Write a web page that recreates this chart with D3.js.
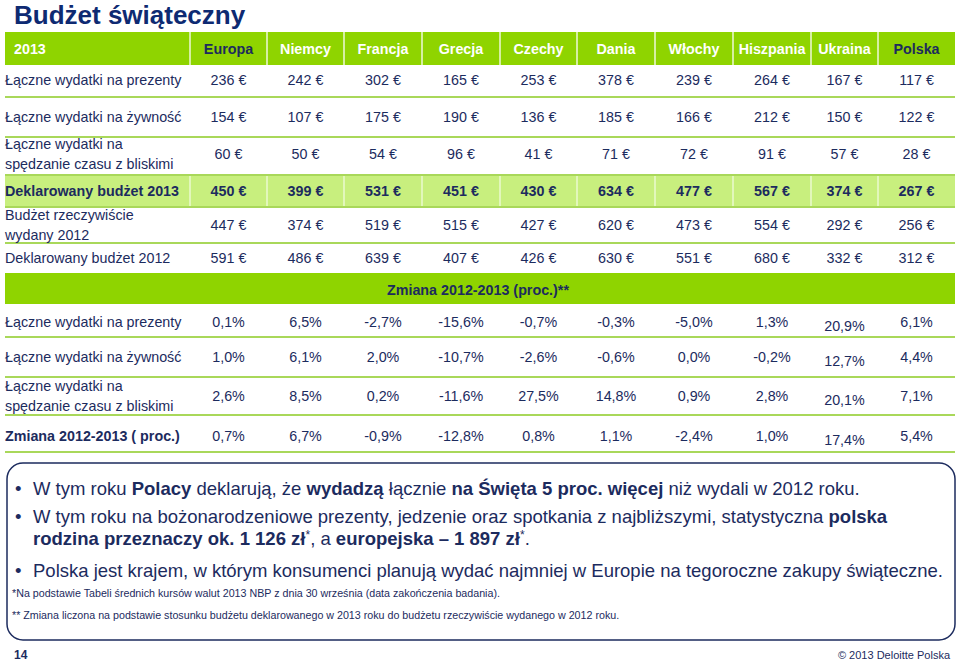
<!DOCTYPE html>
<html><head><meta charset="utf-8">
<script src="https://cdn.jsdelivr.net/npm/d3@7"></script>
<style>
html,body{margin:0;padding:0;background:#fff;}
svg{display:block;font-family:"Liberation Sans",Arial,Helvetica,sans-serif;}
</style></head>
<body><svg id="c" width="960" height="661"></svg>
<script>
// ---------- DATA ----------
const title = "Budżet świąteczny";
const yearLabel = "2013";
const countries = ["Europa","Niemcy","Francja","Grecja","Czechy","Dania","Włochy","Hiszpania","Ukraina","Polska"];
const highlightCountries = ["Europa","Polska"];

const rowLabelsEuro = [
  ["Łączne wydatki na prezenty"],
  ["Łączne wydatki na żywność"],
  ["Łączne wydatki na","spędzanie czasu z bliskimi"],
  ["Deklarowany budżet 2013"],
  ["Budżet rzeczywiście","wydany 2012"],
  ["Deklarowany budżet 2012"]
];
const giftsEur        = [236,242,302,165,253,378,239,264,167,117];
const foodEur         = [154,107,175,190,136,185,166,212,150,122];
const socialEur       = [60,50,54,96,41,71,72,91,57,28];
const declared2013Eur = [450,399,531,451,430,634,477,567,374,267];
const spent2012Eur    = [447,374,519,515,427,620,473,554,292,256];
const declared2012Eur = [591,486,639,407,426,630,551,680,332,312];

const changeHeader = "Zmiana 2012-2013 (proc.)**";
const rowLabelsPct = [
  ["Łączne wydatki na prezenty"],
  ["Łączne wydatki na żywność"],
  ["Łączne wydatki na","spędzanie czasu z bliskimi"],
  ["Zmiana 2012-2013 ( proc.)"]
];
const giftsChange  = [0.1,6.5,-2.7,-15.6,-0.7,-0.3,-5.0,1.3,20.9,6.1];
const foodChange   = [1.0,6.1,2.0,-10.7,-2.6,-0.6,0.0,-0.2,12.7,4.4];
const socialChange = [2.6,8.5,0.2,-11.6,27.5,14.8,0.9,2.8,20.1,7.1];
const totalChange  = [0.7,6.7,-0.9,-12.8,0.8,1.1,-2.4,1.0,17.4,5.4];

const footnote1 = "*Na podstawie Tabeli średnich kursów walut 2013 NBP z dnia 30 września (data zakończenia badania).";
const footnote2 = "** Zmiana liczona na podstawie stosunku budżetu deklarowanego w 2013 roku do budżetu rzeczywiście wydanego w 2012 roku.";
const pageNumber = "14";
const copyright = "© 2013 Deloitte Polska";

// ---------- LAYOUT / STYLE ----------
const NAVY = "#1c2b5e", TITLE = "#0e2a72", GREEN = "#8fd400", LIGHT = "#c8ef7e", LINE = "#a9d85a";
const FONT = 14.3;
const colEdges = [190,267,344,422,500,577,655,733,811,878,955];
const left = 5, right = 955;

const svg = d3.select("#c");
const fmtLocale = d3.formatLocale({decimal:",",thousands:" ",grouping:[3],currency:["","€"],minus:"-"});
const fmtPct = v => fmtLocale.format(".1f")(v) + "%";
const fmtEur = v => fmtLocale.format("d")(v) + " €";

const xL = d3.scaleOrdinal().domain(countries).range(colEdges.slice(0,-1));
const xR = d3.scaleOrdinal().domain(countries).range(colEdges.slice(1));
const xC = c => (xL(c) + xR(c)) / 2;

// title
svg.append("text").attr("x",14).attr("y",24).attr("fill",TITLE)
  .attr("font-size",26).attr("font-weight","bold").text(title);

// header bar
svg.append("rect").attr("x",left).attr("y",32).attr("width",right-left).attr("height",33).attr("fill",GREEN);
svg.append("text").attr("x",14).attr("y",53.5).attr("fill","#fff").attr("font-size",FONT).attr("font-weight","bold").text(yearLabel);
svg.selectAll("line.hdiv").data(colEdges.slice(0,-1)).join("line")
  .attr("x1",d=>d).attr("x2",d=>d).attr("y1",32).attr("y2",65).attr("stroke","#fff").attr("stroke-width",1.5).attr("opacity",0.85);
svg.selectAll("text.hdr").data(countries).join("text")
  .attr("x",d=>xC(d)).attr("y",53.5).attr("text-anchor","middle").attr("font-size",FONT).attr("font-weight","bold")
  .attr("fill",d=>highlightCountries.includes(d)?NAVY:"#fff").text(d=>d);

// upper table
const euroRows = [giftsEur,foodEur,socialEur,declared2013Eur,spent2012Eur,declared2012Eur];
const euroBounds = [65,97,137,175,207,243,273];
const euroBold = [false,false,false,true,false,false];
svg.append("rect").attr("x",left).attr("y",euroBounds[3]).attr("width",right-left).attr("height",euroBounds[4]-euroBounds[3]).attr("fill",LIGHT);
svg.selectAll("line.hl").data(colEdges.slice(0,-1)).join("line")
  .attr("x1",d=>d).attr("x2",d=>d).attr("y1",euroBounds[3]).attr("y2",euroBounds[4]).attr("stroke","#fff").attr("stroke-width",1.2).attr("opacity",0.8);
[97,137,175,207,243].forEach(y=>{
  svg.append("line").attr("x1",left).attr("x2",right).attr("y1",y).attr("y2",y).attr("stroke",LINE).attr("stroke-width",2);
});

function drawRow(labels, values, y0, y1, labelBold, valueBold, fmt, dyFn){
  const cy = (y0+y1)/2;
  const g = svg.append("g");
  const lt = g.append("text").attr("x",left).attr("fill",NAVY).attr("font-size",FONT).attr("font-weight",labelBold?"bold":"normal");
  if(labels.length===1){ lt.attr("y",cy+5).text(labels[0]); }
  else {
    lt.append("tspan").attr("x",left).attr("y",cy-5).text(labels[0]);
    lt.append("tspan").attr("x",left).attr("y",cy+15).text(labels[1]);
  }
  g.selectAll("text.v").data(values).join("text")
    .attr("x",(d,i)=>xC(countries[i])).attr("y",(d,i)=>cy+5+(dyFn?dyFn(i):0))
    .attr("text-anchor","middle").attr("fill",NAVY).attr("font-size",FONT).attr("font-weight",valueBold?"bold":"normal")
    .text(d=>fmt(d));
}
euroRows.forEach((vals,i)=>{
  const adj = (i===0)? -1 : (i===2? -2 : 0);
  drawRow(rowLabelsEuro[i], vals, euroBounds[i]+adj, euroBounds[i+1]+adj, euroBold[i], euroBold[i], fmtEur);
});

// change header bar
svg.append("rect").attr("x",left).attr("y",273).attr("width",right-left).attr("height",31).attr("fill",GREEN);
svg.append("text").attr("x",478).attr("y",295).attr("text-anchor","middle").attr("fill",NAVY).attr("font-size",FONT).attr("font-weight","bold").text(changeHeader);

const pctRows = [giftsChange,foodChange,socialChange,totalChange];
const pctBounds = [304,337,377,415,452];
const pctLabelBold = [false,false,false,true];
[337,377,415,452].forEach(y=>{
  svg.append("line").attr("x1",left).attr("x2",right).attr("y1",y).attr("y2",y).attr("stroke",LINE).attr("stroke-width",2);
});
pctRows.forEach((vals,i)=>{
  const adj = (i===0)? 1.5 : (i===3? 2 : 0);
  drawRow(rowLabelsPct[i], vals, pctBounds[i]+adj, pctBounds[i+1]+adj, pctLabelBold[i], false, fmtPct, j=>countries[j]==="Ukraina"?4:0);
});

// bottom box
const bx=7, by=463, bw=948, bh=177, r=16;
svg.append("rect").attr("x",bx).attr("y",by).attr("width",bw).attr("height",bh).attr("rx",r).attr("ry",r)
  .attr("fill","none").attr("stroke",NAVY).attr("stroke-width",1.5);

const BFS = 18.5;
function bulletLine(y, parts, bullet){
  if(bullet) svg.append("text").attr("x",15).attr("y",y).attr("fill",NAVY).attr("font-size",BFS).text("•");
  const t = svg.append("text").attr("x",33).attr("y",y).attr("fill",NAVY).attr("font-size",BFS);
  parts.forEach(p=>{
    const s = t.append("tspan").text(p[0]);
    if(p[1]==="b") s.attr("font-weight","bold");
    if(p[1]==="sup") s.attr("font-size",12).attr("dy",-6);
    if(p[1]==="afterSup") s.attr("dy",6);
  });
}
bulletLine(495,[["W tym roku "],["Polacy","b"],[" deklarują, że "],["wydadzą","b"],[" łącznie "],["na Święta 5 proc. więcej","b"],[" niż wydali w 2012 roku."]],true);
bulletLine(523,[["W tym roku na bożonarodzeniowe prezenty, jedzenie oraz spotkania z najbliższymi, statystyczna "],["polska","b"]],true);
bulletLine(545,[["rodzina przeznaczy ok. 1 126 zł","b"],["*","sup"],[", a ","afterSup"],["europejska – 1 897 zł","b"],["*","sup"],[".","afterSup"]],false);
bulletLine(577,[["Polska jest krajem, w którym konsumenci planują wydać najmniej w Europie na tegoroczne zakupy świąteczne."]],true);

svg.append("text").attr("x",12).attr("y",597).attr("fill",NAVY).attr("font-size",10.7).text(footnote1);
svg.append("text").attr("x",12).attr("y",619).attr("fill",NAVY).attr("font-size",10.7).text(footnote2);

svg.append("text").attr("x",14).attr("y",659).attr("fill",NAVY).attr("font-size",12).attr("font-weight","bold").text(pageNumber);
svg.append("text").attr("x",950).attr("y",659).attr("text-anchor","end").attr("fill",NAVY).attr("font-size",11).text(copyright);
</script></body></html>
